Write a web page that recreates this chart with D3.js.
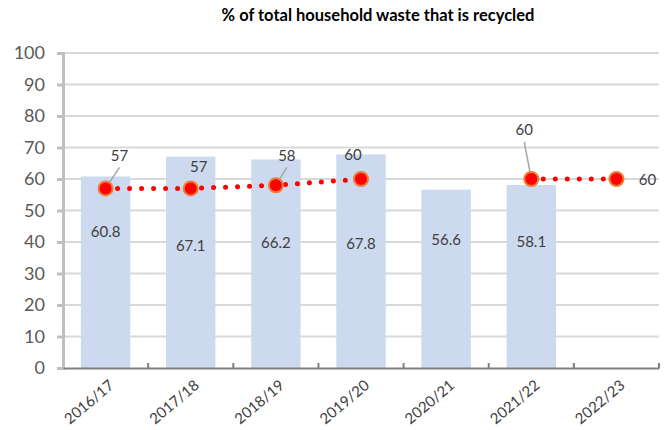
<!DOCTYPE html>
<html>
<head>
<meta charset="utf-8">
<script src="https://cdn.jsdelivr.net/npm/d3@7"></script>
<style>
  body { margin: 0; background: #fff; }
  svg { display: block; font-family: Lato, "Open Sans", sans-serif; }
</style>
</head>
<body>
<svg id="chart" width="667" height="430"></svg>
<script>
// data
var years = ["2016/17", "2017/18", "2018/19", "2019/20", "2020/21", "2021/22", "2022/23"];
var recycled = [60.8, 67.1, 66.2, 67.8, 56.6, 58.1, null];
var target = [57, 57, 58, 60, null, 60, 60];
var yTicks = [0, 10, 20, 30, 40, 50, 60, 70, 80, 90, 100];

// label placement (bar labels in data units, target labels as pixel offsets)
var barLabelAt = [43.3, 38.7, 39.7, 39.4, 40.6, 40.1, null];
var targetLabelOffset = [[14, -33], [8, -22], [11, -30], [-8, -24], null, [-7, -49], [31, 1]];
var targetLeader = [true, false, true, false, false, true, false];

var svg = d3.select("#chart");
var margin = { left: 63, right: 8, top: 53, bottom: 62 };
var width = 667, height = 430;

var x = d3.scaleBand()
    .domain(years)
    .range([margin.left, width - margin.right])
    .paddingInner(0.42)
    .paddingOuter(0.21);
var xBand = d3.scaleBand().domain(years).range([margin.left, width - margin.right]);
var y = d3.scaleLinear().domain([0, 100]).range([height - margin.bottom, margin.top]);

// title
svg.append("text")
    .attr("x", 378)
    .attr("y", 21)
    .attr("text-anchor", "middle")
    .attr("font-size", "16.5px")
    .attr("font-weight", "bold")
    .attr("fill", "#000")
    .text("% of total household waste that is recycled");

// gridlines
svg.append("g")
    .selectAll("line")
    .data(yTicks.slice(1))
    .enter().append("line")
    .attr("x1", margin.left)
    .attr("x2", width - margin.right)
    .attr("y1", function (d) { return y(d); })
    .attr("y2", function (d) { return y(d); })
    .attr("stroke", "#D9D9D9")
    .attr("stroke-width", 2);

// bars
svg.append("g")
    .selectAll("rect")
    .data(years.filter(function (d, i) { return recycled[i] != null; }))
    .enter().append("rect")
    .attr("x", function (d) { return x(d); })
    .attr("width", x.bandwidth())
    .attr("y", function (d) { return y(recycled[years.indexOf(d)]); })
    .attr("height", function (d) { return y(0) - y(recycled[years.indexOf(d)]); })
    .attr("fill", "#CCD9EE");

// bar labels
svg.append("g")
    .selectAll("text")
    .data(years.filter(function (d, i) { return recycled[i] != null; }))
    .enter().append("text")
    .attr("x", function (d) { return x(d) + x.bandwidth() / 2; })
    .attr("y", function (d) { return y(barLabelAt[years.indexOf(d)]); })
    .attr("dy", "0.35em")
    .attr("text-anchor", "middle")
    .attr("font-size", "15px")
    .attr("fill", "#404040")
    .text(function (d) { return recycled[years.indexOf(d)].toFixed(1); });

// y axis
var yAxis = svg.append("g")
    .attr("transform", "translate(" + margin.left + ",0)")
    .call(d3.axisLeft(y).tickValues(yTicks).tickSize(6).tickPadding(12));
yAxis.select(".domain").attr("stroke", "#BFBFBF").attr("stroke-width", 3);
yAxis.selectAll(".tick line").attr("stroke", "#BFBFBF").attr("stroke-width", 3);
yAxis.selectAll(".tick text")
    .attr("font-size", "18px")
    .attr("font-family", "Lato, 'Open Sans', sans-serif")
    .attr("fill", "#595959");

// x axis
var xAxis = svg.append("g")
    .attr("transform", "translate(0," + y(0) + ")")
    .call(d3.axisBottom(xBand).tickSize(0).tickFormat(""));
xAxis.select(".domain").attr("stroke", "#808080").attr("stroke-width", 2);
xAxis.selectAll(".tick").remove();
xAxis.selectAll("line.sep")
    .data(years.slice(1).concat(["end"]))
    .enter().append("line")
    .attr("class", "sep")
    .attr("x1", function (d) { return d === "end" ? width - margin.right : xBand(d); })
    .attr("x2", function (d) { return d === "end" ? width - margin.right : xBand(d); })
    .attr("y1", 0)
    .attr("y2", -5)
    .attr("stroke", "#808080")
    .attr("stroke-width", 2);

svg.append("g")
    .selectAll("text")
    .data(years)
    .enter().append("text")
    .attr("transform", function (d) {
        return "translate(" + (xBand(d) + xBand.bandwidth() / 2 + 6) + "," + (y(0) + 15) + ") rotate(-40)";
    })
    .attr("text-anchor", "end")
    .attr("dy", "0.35em")
    .attr("font-size", "15px")
    .attr("fill", "#404040")
    .text(function (d) { return d; });

// target line
var cx = function (d, i) { return xBand(years[i]) + xBand.bandwidth() / 2; };
var line = d3.line()
    .defined(function (d) { return d != null; })
    .x(cx)
    .y(function (d) { return y(d); });

svg.append("path")
    .datum(target)
    .attr("d", line)
    .attr("fill", "none")
    .attr("stroke", "#FF0000")
    .attr("stroke-width", 5)
    .attr("stroke-linecap", "round")
    .attr("stroke-dasharray", "0 12");

var pts = target.map(function (v, i) { return { v: v, i: i }; }).filter(function (p) { return p.v != null; });

// leader lines
svg.append("g")
    .selectAll("line")
    .data(pts.filter(function (p) { return targetLeader[p.i]; }))
    .enter().append("line")
    .attr("x1", function (p) { return cx(p.v, p.i); })
    .attr("y1", function (p) { return y(p.v); })
    .attr("x2", function (p) { return cx(p.v, p.i) + targetLabelOffset[p.i][0]; })
    .attr("y2", function (p) { return y(p.v) + targetLabelOffset[p.i][1] + 12; })
    .attr("stroke", "#A6A6A6")
    .attr("stroke-width", 1.5);

svg.append("g")
    .selectAll("circle")
    .data(pts)
    .enter().append("circle")
    .attr("cx", function (p) { return cx(p.v, p.i); })
    .attr("cy", function (p) { return y(p.v); })
    .attr("r", 7)
    .attr("fill", "#FF0000")
    .attr("stroke", "#ED7D31")
    .attr("stroke-width", 2);

svg.append("g")
    .selectAll("text")
    .data(pts)
    .enter().append("text")
    .attr("x", function (p) { return cx(p.v, p.i) + targetLabelOffset[p.i][0]; })
    .attr("y", function (p) { return y(p.v) + targetLabelOffset[p.i][1]; })
    .attr("dy", "0.35em")
    .attr("text-anchor", "middle")
    .attr("font-size", "15px")
    .attr("fill", "#404040")
    .text(function (p) { return p.v; });
</script>
</body>
</html>
